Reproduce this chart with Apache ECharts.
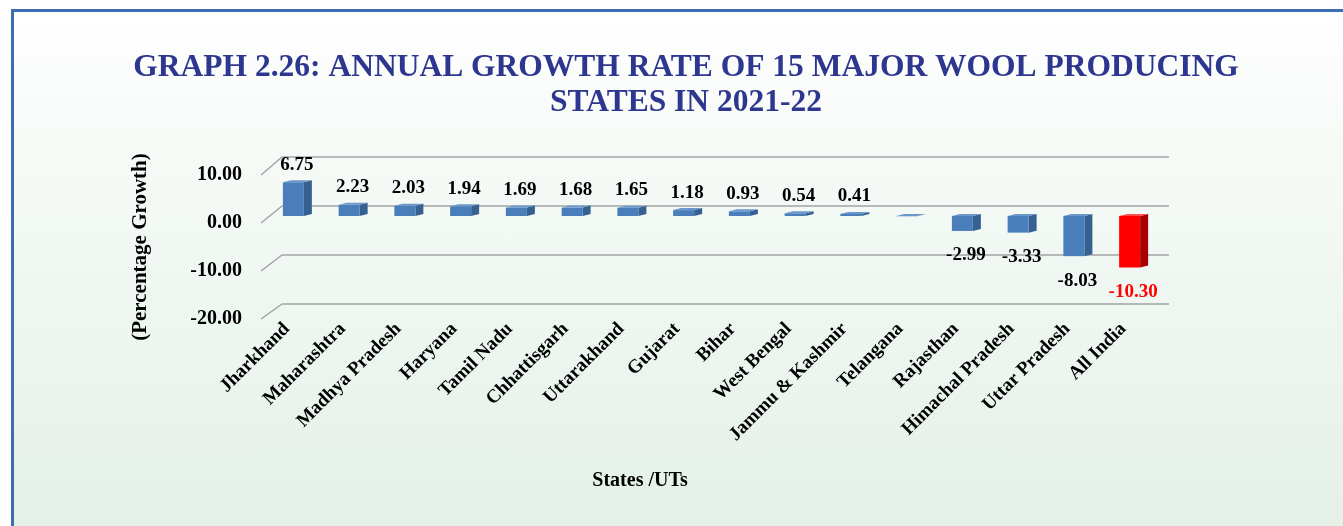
<!DOCTYPE html>
<html><head><meta charset="utf-8">
<script src="https://cdn.jsdelivr.net/npm/echarts@6/dist/echarts.min.js"></script>
<style>
html,body{margin:0;padding:0;background:#fff;overflow:hidden;width:1343px;height:526px}
#frame{position:absolute;left:11px;top:9px;width:1400px;height:600px;border-left:3px solid #3b6db2;border-top:3px solid #3b6db2;background:linear-gradient(to bottom,#ffffff 0px,#f7fbf8 120px,#e4f0e8 510px,#e4f0e8 600px);}
#chart{position:absolute;left:0;top:0;width:1343px;height:526px}
</style></head><body>
<div id="frame"></div><div id="chart"></div>
<script>
const titleLines = ['GRAPH 2.26: ANNUAL GROWTH RATE OF 15 MAJOR WOOL PRODUCING', 'STATES IN 2021-22'];
const categories = ['Jharkhand', 'Maharashtra', 'Madhya Pradesh', 'Haryana', 'Tamil Nadu', 'Chhattisgarh', 'Uttarakhand', 'Gujarat', 'Bihar', 'West Bengal', 'Jammu & Kashmir', 'Telangana', 'Rajasthan', 'Himachal Pradesh', 'Uttar Pradesh', 'All India'];
const growth = [6.75, 2.23, 2.03, 1.94, 1.69, 1.68, 1.65, 1.18, 0.93, 0.54, 0.41, -0.05, -2.99, -3.33, -8.03, -10.30];
const yTicks = [-20, -10, 0, 10];
const highlightCategory = 'All India';
const hiddenLabels = ['Telangana'];
const yTitle = '(Percentage Growth)';
const xTitle = 'States /UTs';

const FONT = '"Liberation Serif", "Times New Roman", serif';
const chart = echarts.init(document.getElementById('chart'), null, {renderer: 'canvas'});
const yMin = yTicks[0], yMax = yTicks[yTicks.length - 1], yInt = yTicks[1] - yTicks[0];

const option = {
  backgroundColor: 'transparent',
  animation: false,
  title: {
    text: titleLines.join('\n'),
    left: 681, top: 45, textAlign: 'center',
    textStyle: {fontFamily: FONT, fontWeight: 'bold', fontSize: 31.5, lineHeight: 35, color: '#2e3790'}
  },
  grid: [
    {left: 261, right: 1061, top: 175, height: 144},   // front plane (labels)
    {left: 282, right: 174, top: 157, height: 147},    // back wall
    {left: 259, right: 192, top: 166, height: 150}     // bars
  ],
  xAxis: [
    {gridIndex: 0, type: 'value', min: 0, max: 1, show: false},
    {gridIndex: 1, type: 'value', min: 0, max: 1, show: false},
    {gridIndex: 2, type: 'category', data: categories,
      axisLine: {show: false}, axisTick: {show: false},
      axisLabel: {rotate: 45, margin: 10, interval: 0, fontFamily: FONT, fontWeight: 'bold', fontSize: 19, color: '#000'}}
  ],
  yAxis: [
    {gridIndex: 0, type: 'value', min: yMin, max: yMax, interval: yInt,
      axisLine: {show: false}, axisTick: {show: false}, splitLine: {show: false},
      axisLabel: {margin: 19, formatter: v => v.toFixed(2), fontFamily: FONT, fontWeight: 'bold', fontSize: 20, color: '#000'},
      name: yTitle, nameLocation: 'middle', nameRotate: 90, nameGap: 110,
      nameTextStyle: {fontFamily: FONT, fontWeight: 'bold', fontSize: 21, color: '#000'}},
    {gridIndex: 1, type: 'value', min: yMin, max: yMax, interval: yInt,
      axisLine: {show: false}, axisTick: {show: false}, axisLabel: {show: false},
      splitLine: {show: true, lineStyle: {color: '#a3a3a3', width: 1.5}}},
    {gridIndex: 2, type: 'value', min: yMin, max: yMax, interval: yInt, show: false, splitLine: {show: false}}
  ],
  graphic: [
    {id: 'xtitle', type: 'text', x: 640, y: 471,
      style: {text: xTitle, fill: '#000', font: 'bold 20px ' + FONT, textAlign: 'center', align: 'center'}}
  ],
  series: [{
    type: 'custom', xAxisIndex: 2, yAxisIndex: 2,
    data: growth.map((v, i) => [i, v]),
    renderItem: function (params, api) {
      const i = api.value(0), v = api.value(1);
      const p = api.coord([i, v]), z = api.coord([i, 0]);
      const c = p[0];
      const top = Math.min(p[1], z[1]), bot = Math.max(p[1], z[1]);
      const x0 = c - 4, x1 = c + 17, dx = 8, dy = 2;
      const hl = categories[i] === highlightCategory;
      const front = hl ? '#ff0000' : '#4a7ebb';
      const side = hl ? '#a80000' : '#36608f';
      const topc = hl ? '#ff4d4d' : '#6b97cd';
      const children = [
        {type: 'polygon', shape: {points: [[x1, top], [x1 + dx, top - dy], [x1 + dx, bot - dy], [x1, bot]]}, style: {fill: side}},
        {type: 'polygon', shape: {points: [[x0, top], [x1, top], [x1 + dx, top - dy], [x0 + dx, top - dy]]}, style: {fill: topc}},
        {type: 'rect', shape: {x: x0, y: top, width: x1 - x0, height: bot - top}, style: {fill: front}}
      ];
      if (!hiddenLabels.includes(categories[i])) {
        children.push({type: 'text',
          style: {x: c + 10, y: v >= 0 ? top - 8 : bot + 15, text: v.toFixed(2),
            fill: hl ? '#ff0000' : '#000', font: 'bold 19px ' + FONT,
            textAlign: 'center', align: 'center',
            textVerticalAlign: v >= 0 ? 'bottom' : 'top', verticalAlign: v >= 0 ? 'bottom' : 'top'}});
      }
      return {type: 'group', children: children};
    }
  }]
};
chart.setOption(option);

// perspective diagonals joining front plane ticks to back wall lines
const diag = yTicks.map((t, k) => {
  const a = chart.convertToPixel({gridIndex: 0}, [0, t]);
  const b = chart.convertToPixel({gridIndex: 1}, [0, t]);
  return {id: 'diag' + k, type: 'line', shape: {x1: a[0], y1: a[1], x2: b[0], y2: b[1]},
    style: {stroke: '#a3a3a3', lineWidth: 1.5}, z: 1};
});
chart.setOption({graphic: diag});
</script>
</body></html>
